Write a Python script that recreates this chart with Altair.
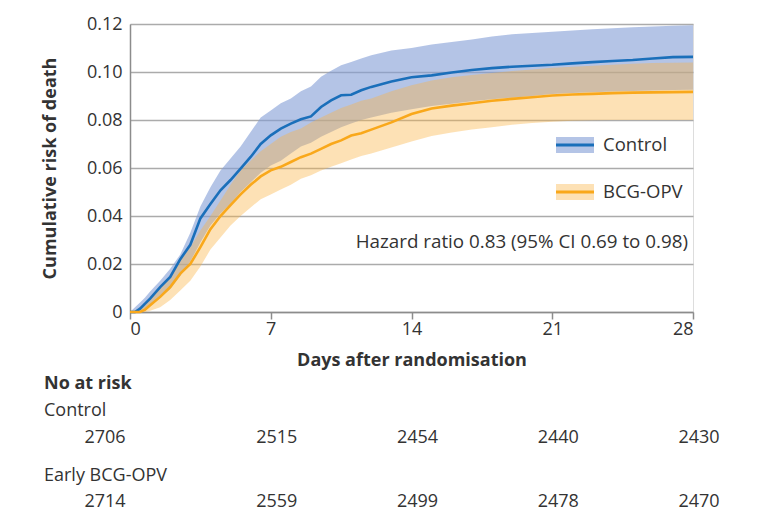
import altair as alt
import pandas as pd

days = [0, 0.25, 0.5, 0.75, 1, 1.5, 2, 2.5, 3, 3.5, 4, 4.5, 5, 5.5, 6, 6.5, 7, 7.5, 8, 8.5,
        9, 9.5, 10, 10.5, 11, 11.5, 12, 13, 14, 15, 16, 17, 18, 19, 20, 21, 22, 23, 24, 25,
        26, 27, 28]

control = [0, 0, 0.0014, 0.0035,
           0.0056, 0.0104, 0.0146, 0.022, 0.028, 0.039, 0.045, 0.0507, 0.055, 0.0597, 0.0646,
           0.070, 0.0736, 0.0764, 0.0785, 0.0803, 0.0815, 0.0854, 0.0882, 0.0903, 0.0905,
           0.0924, 0.0938,
           0.0960, 0.0978, 0.0986, 0.0998, 0.1008, 0.1016, 0.1022, 0.1026, 0.1030, 0.1036,
           0.1041, 0.1046, 0.1050, 0.1056, 0.1062, 0.1063]
control_hi = [0, 0.002, 0.004, 0.006,
              0.0085, 0.013, 0.018, 0.024, 0.033, 0.044, 0.052, 0.059, 0.064, 0.069, 0.075,
              0.081, 0.084, 0.087, 0.089, 0.092, 0.094, 0.098, 0.1005, 0.1028, 0.1042, 0.1056,
              0.107,
              0.109, 0.110, 0.1115, 0.1125, 0.1135, 0.1148, 0.1157, 0.1163, 0.1168, 0.1173,
              0.1178, 0.1182, 0.1186, 0.119, 0.1193, 0.1195]
control_lo = [0, 0, 0, 0.001,
              0.0025, 0.006, 0.0095, 0.015, 0.021, 0.029, 0.036, 0.041, 0.045, 0.050, 0.054,
              0.058, 0.061, 0.063, 0.066, 0.069, 0.0705, 0.073, 0.075, 0.077, 0.0785, 0.080,
              0.081,
              0.083, 0.0845, 0.0858, 0.0868, 0.0878, 0.0886, 0.0893, 0.090, 0.0908, 0.0912,
              0.0916, 0.0919, 0.0921, 0.0923, 0.0925, 0.0926]

bcg = [0, 0, 0, 0.001,
       0.0028, 0.0063, 0.0104, 0.016, 0.020, 0.027, 0.0345, 0.040, 0.0445, 0.049, 0.053,
       0.0565, 0.059, 0.0605, 0.0625, 0.0645, 0.066, 0.068, 0.070, 0.0715, 0.0735, 0.0745,
       0.076,
       0.079, 0.0825, 0.0848, 0.086, 0.0870, 0.0880, 0.0888, 0.0895, 0.0902, 0.0906,
       0.0909, 0.0912, 0.0914, 0.0915, 0.0916, 0.0917]
bcg_hi = [0, 0.0005, 0.0015, 0.0035,
          0.006, 0.0105, 0.015, 0.0215, 0.027, 0.034, 0.040, 0.0465, 0.053, 0.059, 0.063,
          0.067, 0.070, 0.073, 0.075, 0.0765, 0.079, 0.081, 0.083, 0.085, 0.0865, 0.088,
          0.089,
          0.092, 0.0945, 0.0965, 0.0978, 0.0988, 0.0996, 0.1004, 0.101, 0.1018, 0.1022,
          0.1026, 0.103, 0.1034, 0.1037, 0.1039, 0.104]
bcg_lo = [0, 0, 0, 0,
          0.0005, 0.002, 0.005, 0.009, 0.013, 0.019, 0.026, 0.031, 0.036, 0.040, 0.0435,
          0.047, 0.049, 0.051, 0.053, 0.0555, 0.057, 0.059, 0.0605, 0.062, 0.0635, 0.065,
          0.066,
          0.0685, 0.071, 0.0733, 0.0748, 0.076, 0.077, 0.078, 0.0787, 0.0793, 0.0797,
          0.0799, 0.080, 0.080, 0.080, 0.080, 0.080]

risk_days = [0, 7, 14, 21, 28]
risk_control = [2706, 2515, 2454, 2440, 2430]
risk_bcg = [2714, 2559, 2499, 2478, 2470]

x_ticks = [0, 7, 14, 21, 28]
y_ticks = [0, 0.02, 0.04, 0.06, 0.08, 0.10, 0.12]

hazard_text = ["Hazard ratio 0.83 (95% CI 0.69 to 0.98)"]
table_labels = ["No at risk", "Control", "Early BCG-OPV"]
legend_labels = ["Control", "BCG-OPV"]

FONT = "Open Sans"
TXT = "#333333"
GRID = "#ababab"
BLUE = "#1a6fba"
ORANGE = "#f9a81b"

df = pd.DataFrame({
    "day": days,
    "control": control, "control_lo": control_lo, "control_hi": control_hi,
    "bcg": bcg, "bcg_lo": bcg_lo, "bcg_hi": bcg_hi,
})

xs = alt.Scale(domain=[0, 28], nice=False)
ys = alt.Scale(domain=[0, 0.12], nice=False)

xax = alt.Axis(values=x_ticks, grid=False, tickSize=7, tickColor="#8c8c8c", tickWidth=1.5,
               domainColor="#8c8c8c", domainWidth=1.5, labelFont=FONT, labelFontSize=18,
               labelColor=TXT, labelPadding=1, title="Days after randomisation",
               titleFont=FONT, titleFontSize=18, titleFontWeight="bold", titleColor=TXT,
               titleY=48, titleBaseline="middle")
yax = alt.Axis(values=y_ticks, grid=True, gridColor=GRID, gridWidth=1.5, ticks=False,
               domainColor="#8c8c8c", domainWidth=1.5, labelFont=FONT, labelFontSize=18,
               labelColor=TXT, labelPadding=8,
               labelExpr="datum.value == 0 ? '0' : format(datum.value, '.2f')",
               title="Cumulative risk of death", titleFont=FONT, titleFontSize=18,
               titleFontWeight="bold", titleColor=TXT, titleX=-80, titleBaseline="middle",
               titleAngle=-90)

base = alt.Chart(df)

band_c = base.mark_area(color="#829dd5", opacity=0.6).encode(
    x=alt.X("day:Q", scale=xs, axis=xax),
    y=alt.Y("control_lo:Q", scale=ys, axis=yax),
    y2="control_hi:Q",
)
band_b = base.mark_area(color="#fab446", opacity=0.4).encode(
    x=alt.X("day:Q", scale=xs), y=alt.Y("bcg_lo:Q", scale=ys), y2="bcg_hi:Q")
line_c = base.mark_line(color=BLUE, strokeWidth=2.6).encode(
    x=alt.X("day:Q", scale=xs), y=alt.Y("control:Q", scale=ys))
line_b = base.mark_line(color=ORANGE, strokeWidth=2.6).encode(
    x=alt.X("day:Q", scale=xs), y=alt.Y("bcg:Q", scale=ys))

# legend
def legend_entry(label, band_color, line_color, yc):
    d = pd.DataFrame({"label": [label]})
    c = alt.Chart(d)
    patch = c.mark_rect(color=band_color).encode(
        x=alt.value(426), x2=alt.value(464), y=alt.value(yc - 8), y2=alt.value(yc + 8))
    ln = c.mark_rule(color=line_color, strokeWidth=3).encode(
        x=alt.value(426), x2=alt.value(464), y=alt.value(yc))
    tx = c.mark_text(align="left", baseline="middle", font=FONT, fontSize=18.5,
                     color=TXT).encode(x=alt.value(473), y=alt.value(yc), text="label:N")
    return patch + ln + tx

leg1 = legend_entry(legend_labels[0], "#b4c4e6", BLUE, 121)
leg2 = legend_entry(legend_labels[1], "#fde1b5", ORANGE, 168)

hazard = alt.Chart(pd.DataFrame({"t": hazard_text})).mark_text(
    align="right", baseline="middle", font=FONT, fontSize=18.8, color=TXT
).encode(x=alt.value(558), y=alt.value(218), text="t:N")

# number at risk table
lab_df = pd.DataFrame({"t": table_labels, "row": [0, 1, 2]})
lab_no = alt.Chart(lab_df[lab_df.row == 0]).mark_text(
    align="left", baseline="middle", font=FONT, fontSize=18, fontWeight="bold", color=TXT
).encode(x=alt.value(-86), y=alt.value(360), text="t:N")
lab_c = alt.Chart(lab_df[lab_df.row == 1]).mark_text(
    align="left", baseline="middle", font=FONT, fontSize=18, color=TXT
).encode(x=alt.value(-86), y=alt.value(387), text="t:N")
lab_b = alt.Chart(lab_df[lab_df.row == 2]).mark_text(
    align="left", baseline="middle", font=FONT, fontSize=18, color=TXT
).encode(x=alt.value(-86), y=alt.value(452), text="t:N")

risk_df = pd.DataFrame({"day": risk_days, "c": risk_control, "b": risk_bcg})

def risk_row(col, ypix):
    first = alt.Chart(risk_df[risk_df.day == 0]).mark_text(
        align="center", baseline="middle", font=FONT, fontSize=18, color=TXT, dx=-25
    ).encode(x=alt.X("day:Q", scale=xs), y=alt.value(ypix), text=f"{col}:N")
    rest = alt.Chart(risk_df[risk_df.day > 0]).mark_text(
        align="center", baseline="middle", font=FONT, fontSize=18, color=TXT, dx=6
    ).encode(x=alt.X("day:Q", scale=xs), y=alt.value(ypix), text=f"{col}:N")
    return first + rest

row_c = risk_row("c", 414)
row_b = risk_row("b", 478)

chart = alt.layer(
    band_c, band_b, line_c, line_b, leg1, leg2, hazard,
    lab_no, lab_c, lab_b, row_c, row_b
).properties(
    width=563, height=288,
    autosize=alt.AutoSizeParams(type="none"),
    padding={"left": 122, "top": 16, "right": 55, "bottom": 203},
).configure_view(stroke=None).configure(background="white")

chart.save("out.html", embed_options={"renderer": "svg", "actions": False})
